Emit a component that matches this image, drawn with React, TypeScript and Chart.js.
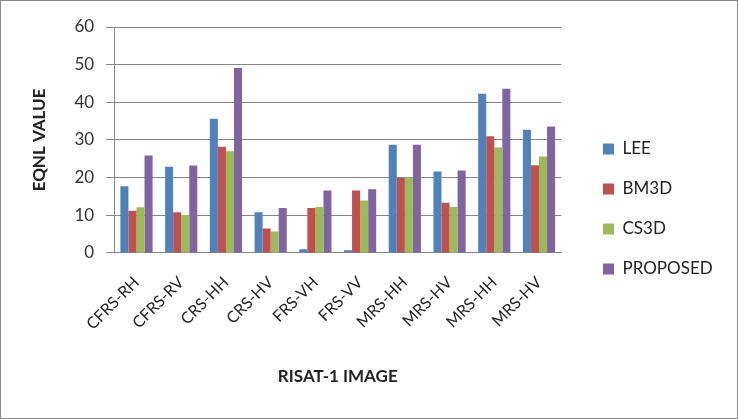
import React, { useEffect, useRef } from "react";
import { Chart, registerables } from "chart.js";

Chart.register(...registerables);

const categories = ["CFRS-RH", "CFRS-RV", "CRS-HH", "CRS-HV", "FRS-VH", "FRS-VV", "MRS-HH", "MRS-HV", "MRS-HH", "MRS-HV"];
const lee = [17.7, 22.9, 35.6, 10.8, 1.0, 0.7, 28.7, 21.6, 42.3, 32.7];
const bm3d = [11.2, 10.8, 28.2, 6.5, 11.9, 16.6, 19.9, 13.3, 31.0, 23.3];
const cs3d = [12.1, 10.1, 27.0, 5.7, 12.2, 13.9, 20.0, 12.2, 28.0, 25.6];
const proposed = [25.9, 23.2, 49.1, 11.9, 16.6, 16.9, 28.7, 21.9, 43.6, 33.6];
const seriesNames = ["LEE", "BM3D", "CS3D", "PROPOSED"];
const colors = ["#4F81BD", "#C0504D", "#9BBB59", "#8064A2"];

const FONT = "Lato, 'Open Sans', sans-serif";
const LEGEND_PAD = 23;
const LEGEND_BOX_X = 602;

const legendShift = {
  id: "legendShift",
  afterLayout(chart: any) {
    const lg = chart.legend;
    if (!lg) return;
    const d = LEGEND_BOX_X - (lg.left + LEGEND_PAD);
    lg.left += d;
    lg.right += d;
  },
};

export default function App() {
  const ref = useRef<HTMLCanvasElement>(null);
  useEffect(() => {
    const values = [lee, bm3d, cs3d, proposed];
    const chart = new Chart(ref.current!, {
      type: "bar",
      data: {
        labels: categories,
        datasets: seriesNames.map((n, i) => ({
          label: n,
          data: values[i],
          backgroundColor: colors[i],
          borderWidth: 0,
          barPercentage: 1,
          categoryPercentage: 0.72,
        })),
      },
      plugins: [legendShift],
      options: {
        animation: false,
        responsive: false,
        layout: { padding: { top: 26, right: 33, bottom: 27, left: 24 } },
        plugins: {
          tooltip: { enabled: false },
          legend: {
            position: "right",
            labels: {
              boxWidth: 11,
              boxHeight: 11,
              padding: LEGEND_PAD,
              color: "#222",
              font: { family: FONT, size: 17 },
            },
          },
        },
        scales: {
          x: {
            grid: { display: false, drawTicks: false },
            border: { color: "#888" },
            ticks: {
              maxRotation: 45,
              minRotation: 45,
              color: "#222",
              font: { family: FONT, size: 16 },
              padding: 20,
            },
            title: {
              display: true,
              text: "RISAT-1 IMAGE",
              color: "#222",
              font: { family: FONT, size: 17, weight: "bold" },
              padding: { top: 13 },
            },
          },
          y: {
            min: 0,
            max: 60,
            grid: { color: "#888", tickLength: 8, tickColor: "#888" },
            border: { color: "#888" },
            ticks: {
              stepSize: 10,
              color: "#333",
              font: { family: FONT, size: 17 },
              padding: 12,
            },
            title: {
              display: true,
              text: "EQNL VALUE",
              color: "#222",
              font: { family: FONT, size: 17, weight: "bold" },
              padding: { bottom: 13 },
            },
          },
        },
      },
    });
    return () => chart.destroy();
  }, []);
  return (
    <div
      style={{
        position: "fixed",
        left: 0,
        top: 0,
        width: 738,
        height: 419,
        border: "1px solid #8a8a8a",
        boxSizing: "border-box",
        background: "#fff",
      }}
    >
      <canvas ref={ref} width={736} height={417} style={{ display: "block" }} />
    </div>
  );
}
